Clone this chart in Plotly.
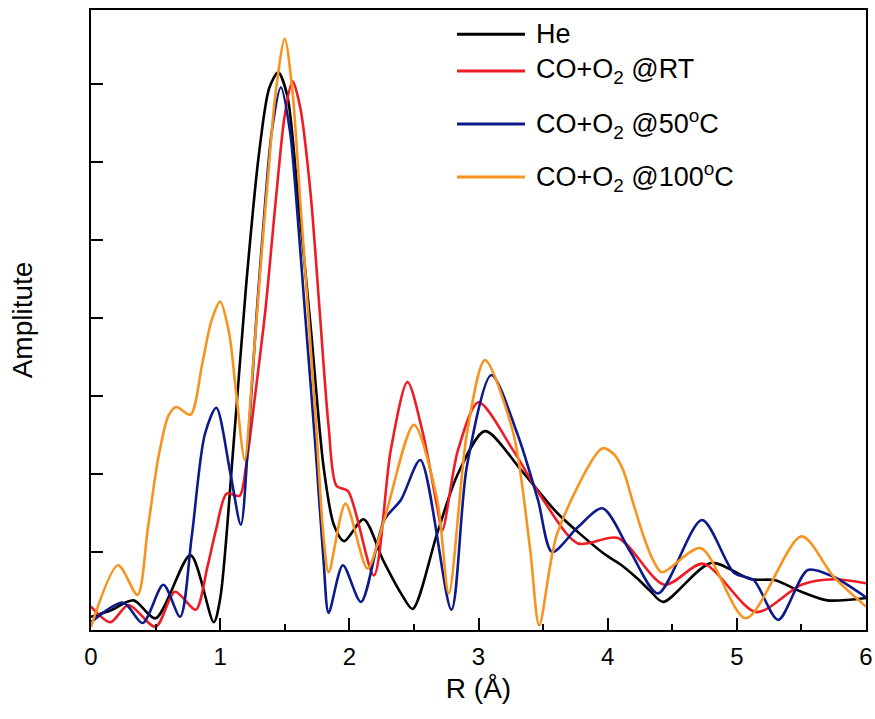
import plotly.graph_objects as go

# Fourier-transformed EXAFS amplitude vs. radial distance R (Å)
he_r = [0, 0.15, 0.33, 0.5, 0.77, 0.95, 1.0, 1.1, 1.2, 1.3, 1.38, 1.45, 1.52, 1.6, 1.7, 1.8,
        1.88, 1.96, 2.11, 2.26, 2.4, 2.49, 2.68, 2.84, 3.05, 3.33, 3.61, 3.97, 4.1, 4.23, 4.33,
        4.43, 4.8, 5.11, 5.29, 5.5, 5.7, 6.0]
he_amp = [0.17, 0.25, 0.38, 0.15, 0.96, 0.1, 0.4, 2.3, 4.4, 6.1, 6.95, 7.15, 6.85, 5.6, 3.9, 2.1,
          1.35, 1.14, 1.42, 0.9, 0.47, 0.27, 1.24, 2.0, 2.55, 2.05, 1.5, 0.98, 0.84, 0.66, 0.5,
          0.36, 0.86, 0.65, 0.64, 0.49, 0.38, 0.41]

rt_r = [0, 0.15, 0.29, 0.5, 0.65, 0.81, 0.9, 0.97, 1.05, 1.15, 1.2, 1.27, 1.35, 1.43, 1.5,
        1.56, 1.62, 1.7, 1.77, 1.84, 1.9, 1.99, 2.19, 2.32, 2.45, 2.57, 2.68, 2.72, 2.84, 3.0,
        3.27, 3.5, 3.77, 4.08, 4.44, 4.74, 5.15, 5.5, 5.75, 6.0]
rt_amp = [0.3, 0.1, 0.32, 0.04, 0.49, 0.26, 0.8, 1.3, 1.75, 1.72, 2.1, 3.0, 4.1, 5.5, 6.6,
          7.04, 6.7, 5.6, 4.1, 2.6, 1.85, 1.78, 0.7, 2.3, 3.18, 2.52, 1.58, 1.28, 2.3, 2.92,
          2.3, 1.67, 1.11, 1.18, 0.58, 0.85, 0.23, 0.58, 0.65, 0.6]

t50_r = [0, 0.25, 0.4, 0.56, 0.69, 0.78, 0.88, 0.97, 1.08, 1.16, 1.22, 1.28, 1.34, 1.4, 1.47,
         1.54, 1.6, 1.66, 1.74, 1.8, 1.84, 1.95, 2.09, 2.27, 2.4, 2.55, 2.79, 2.91, 3.1, 3.3,
         3.46, 3.57, 3.77, 3.96, 4.18, 4.39, 4.73, 4.98, 5.13, 5.32, 5.55, 5.75, 6.0]
t50_amp = [0.1, 0.35, 0.09, 0.58, 0.17, 1.2, 2.5, 2.85, 2.0, 1.35, 2.5, 4.0, 5.3, 6.4, 6.96,
           6.4, 5.3, 4.0, 2.3, 0.9, 0.22, 0.83, 0.36, 1.41, 1.67, 2.18, 0.26, 2.1, 3.27, 2.52,
           1.67, 1.0, 1.32, 1.56, 0.99, 0.47, 1.41, 0.73, 0.64, 0.13, 0.77, 0.68, 0.42]

t100_r = [0, 0.21, 0.36, 0.44, 0.52, 0.6, 0.66, 0.77, 0.86, 0.93, 1.0, 1.07, 1.12, 1.19, 1.25,
          1.31, 1.37, 1.43, 1.5, 1.56, 1.62, 1.68, 1.74, 1.8, 1.84, 1.97, 2.14, 2.27, 2.5, 2.68,
          2.77, 2.91, 3.05, 3.27, 3.4, 3.47, 3.61, 3.96, 4.05, 4.12, 4.19, 4.27, 4.35, 4.42,
          4.72, 5.07, 5.5, 5.75, 6.0]
t100_amp = [0.04, 0.83, 0.45, 1.3, 2.2, 2.75, 2.86, 2.76, 3.4, 3.95, 4.21, 3.8, 3.1, 2.18, 3.3,
            4.6, 5.8, 6.9, 7.58, 6.9, 5.5, 4.1, 2.7, 1.2, 0.74, 1.62, 0.79, 1.41, 2.63, 1.67,
            0.47, 2.52, 3.46, 2.52, 1.03, 0.06, 1.24, 2.33, 2.25, 2.05, 1.67, 1.24, 0.9, 0.74,
            1.05, 0.15, 1.2, 0.68, 0.3]

series_names = ["He", "CO+O<sub>2</sub> @RT", "CO+O<sub>2</sub> @50<sup>o</sup>C",
                "CO+O<sub>2</sub> @100<sup>o</sup>C"]
series_colors = ["#000000", "#ee1c24", "#0d1a8a", "#f7931e"]
series_data = [(he_r, he_amp), (rt_r, rt_amp), (t50_r, t50_amp), (t100_r, t100_amp)]

FONT = "Liberation Sans, Arial, sans-serif"

fig = go.Figure()
for name, color, (r, amp) in zip(series_names, series_colors, series_data):
    fig.add_trace(go.Scatter(
        x=r, y=amp, mode="lines", name=name, showlegend=False,
        line=dict(color=color, width=2.6, shape="spline", smoothing=0.8),
    ))

# Hand-drawn legend block in the upper right of the plot area
legend_y = [0.961, 0.9016, 0.816, 0.7306]
for name, color, ly in zip(series_names, series_colors, legend_y):
    fig.add_shape(type="line", xref="paper", yref="paper",
                  x0=0.4723, x1=0.56, y0=ly, y1=ly,
                  line=dict(color=color, width=3))
    fig.add_annotation(xref="paper", yref="paper", x=0.571, y=ly,
                       xanchor="left", yanchor="middle", text=name, showarrow=False,
                       font=dict(family=FONT, size=27, color="#000000"))

fig.update_xaxes(
    range=[0, 6], dtick=1, tick0=0,
    ticks="inside", ticklen=12, tickwidth=2, tickcolor="#000000",
    minor=dict(ticks="inside", ticklen=6, tickwidth=2, dtick=0.5, tickcolor="#000000"),
    showline=True, linecolor="#000000", linewidth=2, mirror=True,
    showgrid=False, zeroline=False, automargin=False,
    tickfont=dict(family=FONT, size=24, color="#000000"), ticklabelstandoff=4,
    title=dict(text="R (Å)", font=dict(family=FONT, size=28, color="#000000"), standoff=10),
)
fig.update_yaxes(
    range=[0, 7.95], dtick=1, tick0=0,
    ticks="inside", ticklen=12, tickwidth=2, tickcolor="#000000",
    showticklabels=False,
    showline=True, linecolor="#000000", linewidth=2, mirror=True,
    showgrid=False, zeroline=False, automargin=False,
    title=dict(text="Amplitute", font=dict(family=FONT, size=28, color="#000000"), standoff=48),
)

fig.update_layout(
    width=875, height=719,
    margin=dict(l=91, r=9, t=10, b=89),
    plot_bgcolor="#ffffff", paper_bgcolor="#ffffff",
    font=dict(family=FONT),
)

fig.write_html("out.html")
